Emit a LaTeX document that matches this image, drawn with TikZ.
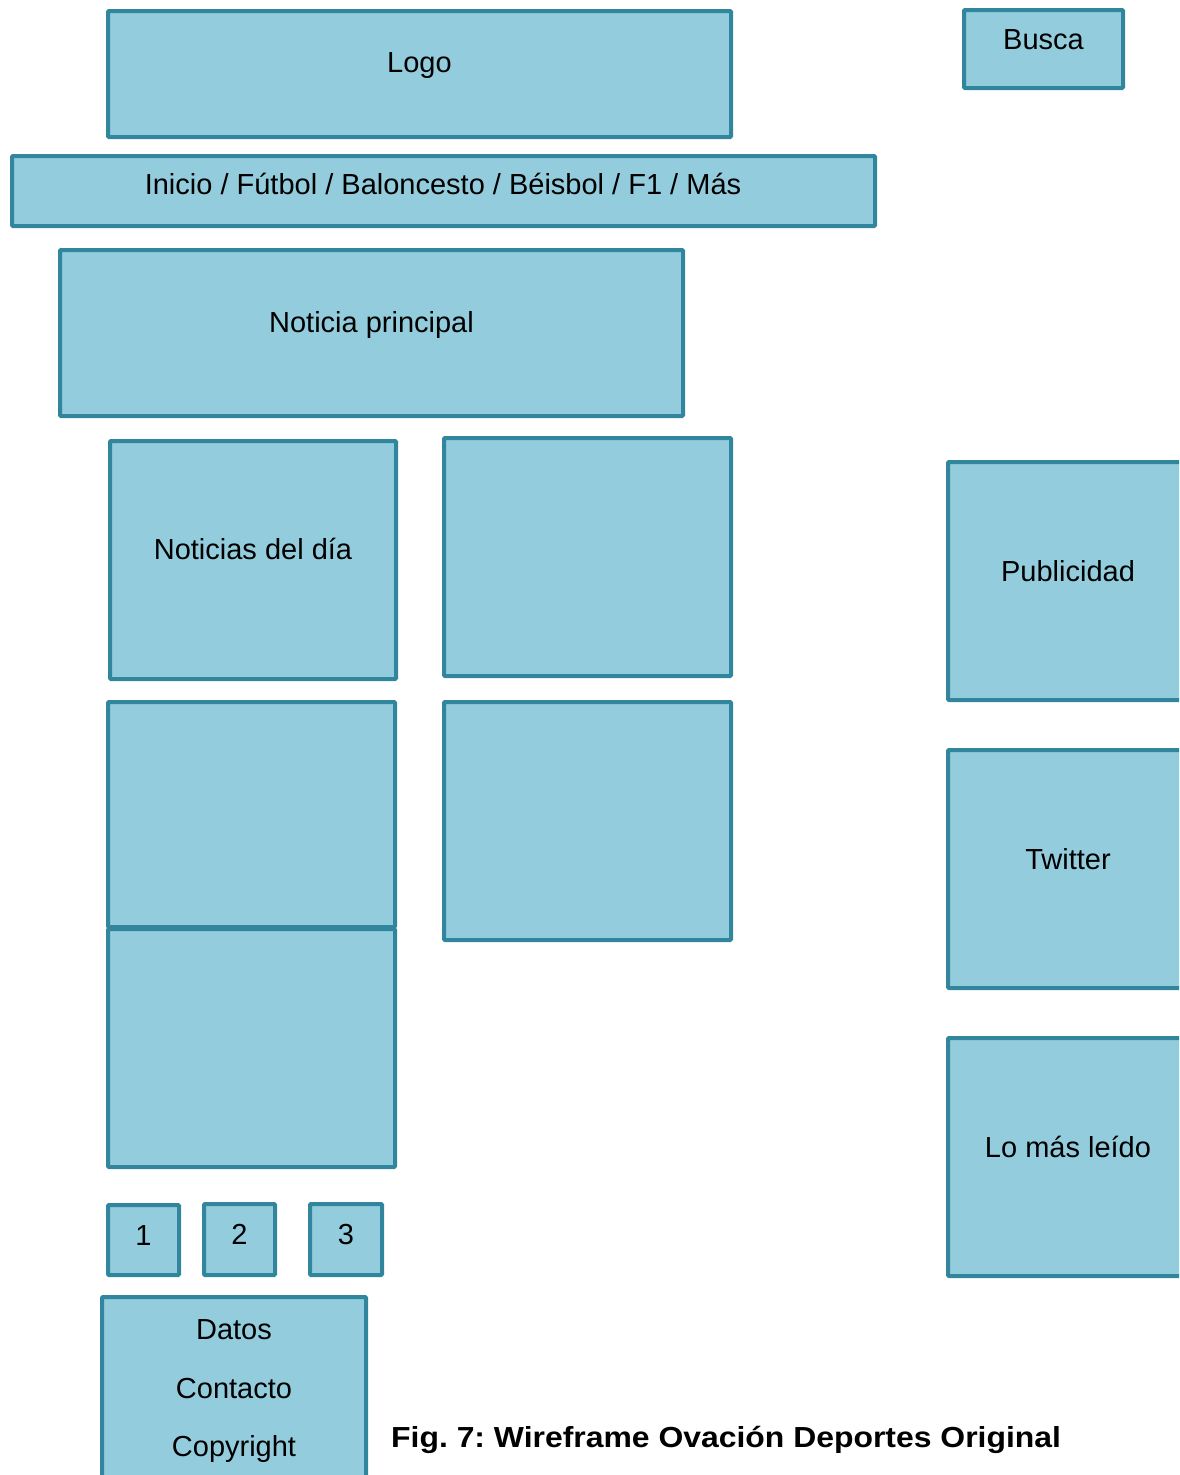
\documentclass[tikz,border=0pt]{standalone}
\usepackage{fontspec}
\setmainfont{Liberation Sans}
\newfontfamily\capfont[FakeStretch=1.1]{Liberation Sans}
\definecolor{boxfill}{HTML}{93CDDD}
\definecolor{boxline}{HTML}{31859C}
\begin{document}
\begin{tikzpicture}[x=1pt,y=-1pt,
  box/.style={draw=boxline, fill=boxfill, line width=4pt, rounded corners=1pt, inner sep=0pt},
  lbl/.style={inner sep=0pt, anchor=base, font=\fontsize{29}{34}\selectfont, text=black},
  figcaption/.style={inner sep=0pt, font=\capfont\fontsize{29}{34}\selectfont\bfseries\frenchspacing, text=black, anchor=base west}]
\useasboundingbox (0,0) rectangle (1179,1475);
\clip (0,0) rectangle (1179,1475);
% boxes: center, size = outer - line width
\node[box, minimum width=623pt, minimum height=126pt] (logo) at (419.5,74) {};
\node[box, minimum width=159pt, minimum height=78pt] (busca) at (1043.5,49) {};
\node[box, minimum width=863pt, minimum height=70pt] (nav) at (443.5,191) {};
\node[box, minimum width=623pt, minimum height=166pt] (principal) at (371.5,333) {};
\node[box, minimum width=286pt, minimum height=238pt] (dia) at (253,560) {};
\node[box, minimum width=287pt, minimum height=238pt] (n2) at (587.5,557) {};
\node[box, minimum width=287pt, minimum height=225pt] (n3) at (251.5,814.5) {};
\node[box, minimum width=287pt, minimum height=238pt] (n4) at (587.5,821) {};
\node[box, minimum width=287pt, minimum height=238pt] (n5) at (251.5,1048) {};
\node[box, minimum width=250pt, minimum height=238pt] (publi) at (1073,581) {};
\node[box, minimum width=250pt, minimum height=238pt] (twitter) at (1073,869) {};
\node[box, minimum width=250pt, minimum height=238pt] (leido) at (1073,1157) {};
\node[box, minimum width=71pt, minimum height=70pt] (p1) at (143.5,1240) {};
\node[box, minimum width=71pt, minimum height=71pt] (p2) at (239.5,1239.5) {};
\node[box, minimum width=72pt, minimum height=71pt] (p3) at (346,1239.5) {};
\node[box, minimum width=264pt, minimum height=200pt] (footer) at (234,1397) {};
% labels (at baselines)
\node[lbl] (tlogo) at (419.5,72.3) {Logo};
\node[lbl] (tbusca) at (1043.5,49) {Busca};
\node[lbl] (tnav) at (443,194.3) {Inicio / Fútbol / Baloncesto / Béisbol / F1 / Más};
\node[lbl] (tprin) at (371.5,332) {Noticia principal};
\node[lbl] (tdia) at (253,559) {Noticias del día};
\node[lbl] (tpubli) at (1068,581) {Publicidad};
\node[lbl] (ttw) at (1068,869) {Twitter};
\node[lbl] (tleido) at (1068,1157) {Lo más leído};
\node[lbl] (t1) at (143.5,1245) {1};
\node[lbl] (t2) at (239.5,1244) {2};
\node[lbl] (t3) at (346,1244) {3};
\node[lbl] (tdatos) at (234,1339) {Datos};
\node[lbl] (tcont) at (234,1398.3) {Contacto};
\node[lbl] (tcopy) at (234,1456.7) {Copyright};
\node[figcaption] (caption) at (391,1447.3) {Fig. 7: Wireframe Ovación Deportes Original};
\end{tikzpicture}
\end{document}
